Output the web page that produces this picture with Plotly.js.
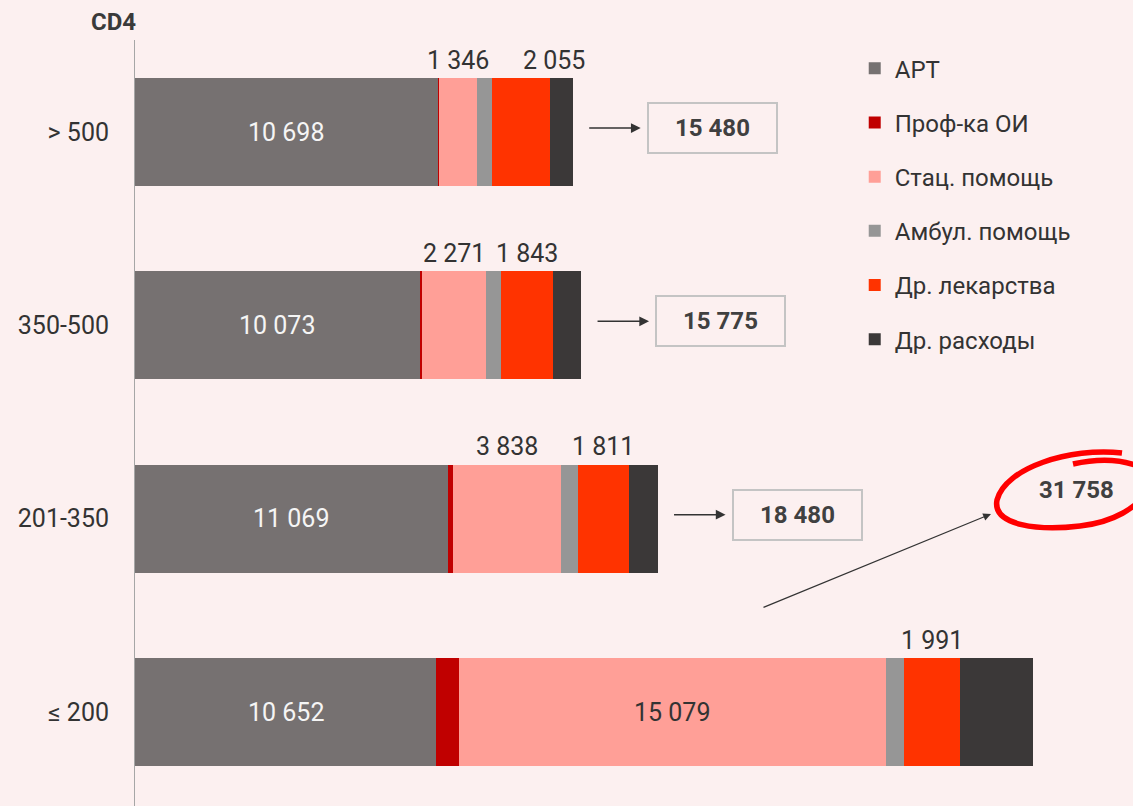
<!DOCTYPE html>
<html><head><meta charset="utf-8">
<script src="https://cdn.plot.ly/plotly-3.0.1.min.js"></script>
<style>
html,body{margin:0;padding:0;background:#fcf0f0;}
#chart{width:1133px;height:806px;}
</style></head><body><div id="chart"></div>
<script>
// ---- data ----
const categories = ['> 500', '350-500', '201-350', '≤ 200'];
const seriesNames = ['АРТ', 'Проф-ка ОИ', 'Стац. помощь', 'Амбул. помощь', 'Др. лекарства', 'Др. расходы'];
const art    = [10698, 10073, 11069, 10652];
const profOI = [60, 70, 175, 813];
const stat   = [1346, 2271, 3838, 15079];
const ambul  = [530, 540, 580, 640];
const drugs  = [2055, 1843, 1811, 1991];
const other  = [791, 978, 1007, 2583];
const totals = [15480, 15775, 18480, 31758];
const axisTitle = 'CD4';

// ---- styling ----
const colors = ['#767171', '#c00000', '#ff9f97', '#969696', '#ff3300', '#3b3838'];
const series = [art, profOI, stat, ambul, drugs, other];
const FONT = 'Roboto, "Open Sans", sans-serif';
const fmt = n => String(n).replace(/\B(?=(\d{3})+(?!\d))/g, ' ');

const traces = series.map((vals, k) => ({
  type: 'bar', orientation: 'h',
  y: categories.map((c, i) => i), x: vals,
  name: seriesNames[k], legendgroup: 'g' + k,
  marker: {color: colors[k], line: {width: 0}},
  hoverinfo: 'skip'
}));

const L = 135, T = 40, W = 990, H = 766;
const pxPerUnit = 0.028276;
const xMax = W / pxPerUnit;
const P = (x, y) => [(x - L) / W, 1 - (y - T) / H];

const ann = [];
// axis title
ann.push({xref: 'paper', yref: 'paper', x: 0, y: 1, xanchor: 'right', yanchor: 'middle',
  xshift: 3, yshift: 18, showarrow: false, text: '<b>' + axisTitle + '</b>',
  font: {family: FONT, size: 24, color: '#3a3a3a'}});

categories.forEach((c, i) => {
  const cum = [];
  let s = 0;
  series.forEach(v => { cum.push(s); s += v[i]; });
  // ART inside
  ann.push({x: art[i] / 2, y: i, xref: 'x', yref: 'y', showarrow: false, text: fmt(art[i]),
    font: {family: FONT, size: 25, color: '#f5f5f5'}});
  // stat
  const statMid = cum[2] + stat[i] / 2;
  const drugMid = cum[4] + drugs[i] / 2;
  if (stat[i] > 5000) {
    ann.push({x: statMid, y: i, xref: 'x', yref: 'y', showarrow: false, text: fmt(stat[i]),
      font: {family: FONT, size: 25, color: '#333333'}});
  } else {
    ann.push({x: statMid, y: i, xref: 'x', yref: 'y', yshift: 72, showarrow: false, text: fmt(stat[i]),
      font: {family: FONT, size: 25, color: '#333333'}});
  }
  const gapPx = (drugMid - statMid) * pxPerUnit;
  ann.push({x: drugMid, y: i, xref: 'x', yref: 'y', yshift: 72,
    xshift: (stat[i] <= 5000 && gapPx < 66) ? 33 : 0,
    showarrow: false, text: fmt(drugs[i]),
    font: {family: FONT, size: 25, color: '#333333'}});

  if (i < 3) {
    ann.push({x: totals[i], y: i, xref: 'x', yref: 'y', xshift: 68, yshift: 4,
      ax: -53, ay: 0, text: '', showarrow: true, arrowhead: 2, arrowsize: 1.3,
      arrowwidth: 1.5, arrowcolor: '#333'});
    ann.push({x: totals[i], y: i, xref: 'x', yref: 'y', xanchor: 'left', xshift: 74, yshift: 4,
      showarrow: false, text: '<b>' + fmt(totals[i]) + '</b>',
      width: 123, height: 44, borderpad: 2, bordercolor: '#c4c4c4', borderwidth: 2,
      font: {family: FONT, size: 24, color: '#404040'}});
  } else {
    ann.push({x: totals[i], y: i, xref: 'x', yref: 'y', xshift: -42, yshift: 198,
      ax: -229, ay: 124, text: '', showarrow: true, arrowhead: 2, arrowsize: 1.3,
      arrowwidth: 1.2, arrowcolor: '#333'});
    ann.push({x: totals[i], y: i, xref: 'x', yref: 'y', xshift: 44, yshift: 222,
      showarrow: false, text: '<b>' + fmt(totals[i]) + '</b>',
      font: {family: FONT, size: 24, color: '#404040'}});
  }
});

// hand-drawn ellipse
function pathFrom(segs) {
  return segs.map(seg => seg[0] + ' ' + seg.slice(1).map(p => P(p[0], p[1]).join(',')).join(' ')).join(' ');
}
const loop = pathFrom([
  ['M', [1122, 453]],
  ['C', [1070, 447], [1005, 468], [997, 500]],
  ['C', [992, 526], [1040, 531], [1080, 526]],
  ['C', [1115, 522], [1135, 508], [1150, 490]],
  ['M', [1073, 464]],
  ['C', [1095, 459], [1125, 457], [1150, 472]]
]);
const shapes = [{type: 'path', xref: 'paper', yref: 'paper', path: loop,
  line: {color: '#ff0000', width: 5.5}}];

const layout = {
  width: 1133, height: 806,
  margin: {l: L, r: 1133 - L - W, t: T, b: 806 - T - H, pad: 0},
  paper_bgcolor: 'rgba(0,0,0,0)', plot_bgcolor: 'rgba(0,0,0,0)',
  barmode: 'stack', bargap: 0.441,
  font: {family: FONT, color: '#333'},
  xaxis: {range: [0, xMax], visible: false, fixedrange: true},
  yaxis: {range: [3.486, -0.476], tickmode: 'array', tickvals: [0, 1, 2, 3], ticktext: categories,
    showline: true, linecolor: '#a6a6a6', linewidth: 1, showgrid: false, zeroline: false,
    ticks: '', ticklabelstandoff: 20, tickfont: {family: FONT, size: 25, color: '#333'}},
  showlegend: true,
  legend: {x: 0.727, y: 0.992, xanchor: 'left', yanchor: 'top', bgcolor: 'rgba(0,0,0,0)',
    font: {family: FONT, size: 24, color: '#333'}, tracegroupgap: 20, itemwidth: 30, traceorder: 'grouped'},
  annotations: ann,
  shapes: shapes
};

Plotly.newPlot('chart', traces, layout, {staticPlot: true, displayModeBar: false});
</script></body></html>
